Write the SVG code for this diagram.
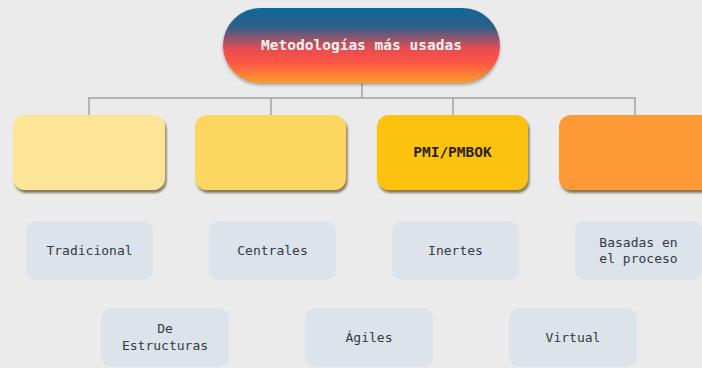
<svg xmlns="http://www.w3.org/2000/svg" width="702" height="368" viewBox="0 0 702 368">
<defs>
<linearGradient id="pillGrad" x1="0" y1="0" x2="0" y2="1">
<stop offset="0" stop-color="#0f6896"/>
<stop offset="0.25" stop-color="#2d5f8a"/>
<stop offset="0.55" stop-color="#e94c52"/>
<stop offset="0.72" stop-color="#fb5545"/>
<stop offset="1" stop-color="#fd9b2c"/>
</linearGradient>
<filter id="shadow" x="-10%" y="-10%" width="125%" height="135%">
<feDropShadow dx="1.5" dy="3" stdDeviation="1.2" flood-color="#5a4a1a" flood-opacity="0.7"/>
</filter>
<filter id="pshadow" x="-10%" y="-10%" width="125%" height="135%">
<feDropShadow dx="0" dy="2" stdDeviation="1.5" flood-color="#333" flood-opacity="0.4"/>
</filter>
</defs>
<style>
.conn { stroke: #a3a3a3; stroke-width: 1.5; fill: none; }
.cat { filter: url(#shadow); }
.leaf rect { fill: #dde3eb; }
.leaf text { font-family: "DejaVu Sans Mono", "Liberation Mono", monospace; font-size: 13px; fill: #333a40; text-anchor: middle; }
.title { font-family: "DejaVu Sans Mono", "Liberation Mono", monospace; font-size: 14.5px; font-weight: bold; fill: #f4f4f4; text-anchor: middle; }
.cattext { font-family: "DejaVu Sans Mono", "Liberation Mono", monospace; font-size: 14.5px; font-weight: bold; fill: #2a2410; text-anchor: middle; }
</style>
<rect x="0" y="0" width="702" height="368" fill="#ebebeb"/>
<g id="connectors">
<path class="conn" d="M362 83 V98 M88 98 H636 M89 98 V115 M271 98 V115 M453 98 V115 M635 98 V115"/>
</g>
<g id="root">
<rect x="223" y="8" width="277" height="75" rx="37.5" fill="url(#pillGrad)" filter="url(#pshadow)"/>
<text class="title" x="361.5" y="50">Metodologías más usadas</text>
</g>
<g id="cat1"><rect class="cat" x="13" y="115" width="152" height="75" rx="12" fill="#fde597"/></g>
<g id="cat2"><rect class="cat" x="195" y="115" width="151" height="75" rx="12" fill="#fdd662"/></g>
<g id="cat3"><rect class="cat" x="377" y="115" width="151" height="75" rx="12" fill="#fdc20b"/>
<text class="cattext" x="452.5" y="157">PMI/PMBOK</text></g>
<g id="cat4"><rect class="cat" x="559" y="115" width="160" height="75" rx="12" fill="#fd9a36"/></g>
<g id="tradicional" class="leaf"><rect x="26" y="221" width="127" height="59" rx="10"/><text x="89.5" y="255">Tradicional</text></g>
<g id="centrales" class="leaf"><rect x="209" y="221" width="127" height="59" rx="10"/><text x="272.5" y="255">Centrales</text></g>
<g id="inertes" class="leaf"><rect x="392" y="221" width="127" height="59" rx="10"/><text x="455.5" y="255">Inertes</text></g>
<g id="basadas" class="leaf"><rect x="575" y="221" width="127" height="59" rx="10"/><text x="638.5" y="247">Basadas en</text><text x="638.5" y="263">el proceso</text></g>
<g id="estructuras" class="leaf"><rect x="101" y="308" width="128" height="59" rx="10"/><text x="165" y="333">De</text><text x="165" y="350">Estructuras</text></g>
<g id="agiles" class="leaf"><rect x="305" y="308" width="128" height="59" rx="10"/><text x="369" y="342">Ágiles</text></g>
<g id="virtual" class="leaf"><rect x="509" y="308" width="128" height="59" rx="10"/><text x="573" y="342">Virtual</text></g>
</svg>
